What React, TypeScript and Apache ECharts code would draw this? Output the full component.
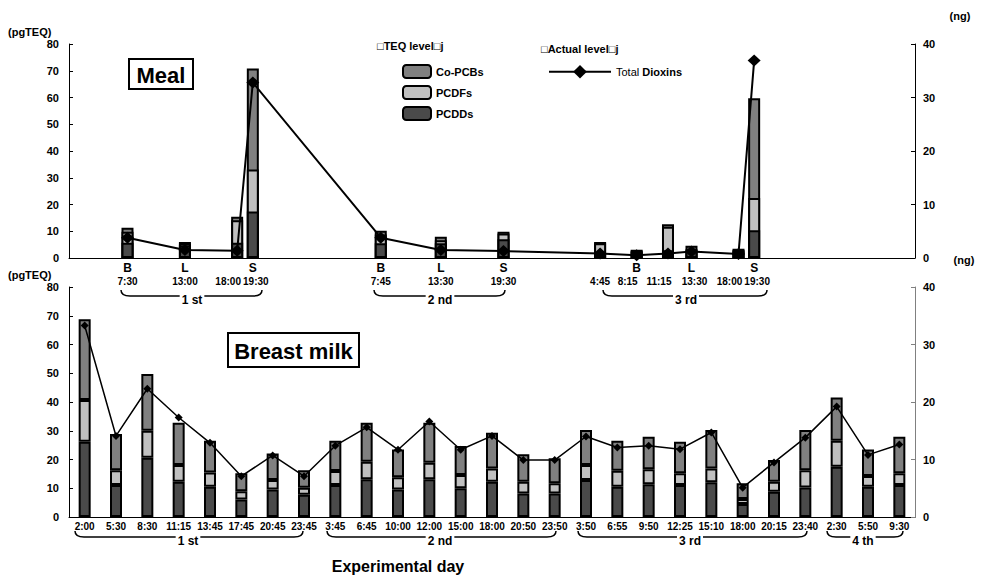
import React, { useEffect, useRef } from 'react';
import * as echarts from 'echarts';

// ---- Meal (top) : time in hours from 0:00 of day 1 ----
const mealHours = [7.5, 13, 18, 19.5, 31.75, 37.5, 43.5, 52.75, 56.25, 59.25, 61.5, 66, 67.5];
const mealLetters = ['B', 'L', '', 'S', 'B', 'L', 'S', '', 'B', '', 'L', '', 'S'];
const mealTimes = ['7:30', '13:00', '18:00', '19:30', '7:45', '13:30', '19:30', '4:45', '8:15', '11:15', '13:30', '18:00', '19:30'];
const mealPCDDs = [5.7, 4.8, 5.7, 17.4, 5.5, 5.5, 7.0, 1.7, 2.3, 2.9, 2.8, 2.5, 10.4];
const mealPCDFs = [4.1, 0.6, 8.4, 15.7, 3.3, 1.1, 2.2, 3.8, 0.4, 8.8, 0.5, 0.5, 12.0];
const mealCoPCBs = [1.5, 0.6, 1.3, 37.7, 1.4, 1.3, 0.6, 0.5, 0.4, 0.9, 1.3, 0.5, 37.3];
const mealTotalNg = [3.8, 1.5, 1.35, 32.8, 3.8, 1.5, 1.3, 0.85, 0.5, 0.85, 1.2, 0.75, 36.9];

// ---- Breast milk (bottom) ----
const milkTimes = ['2:00', '5:30', '8:30', '11:15', '13:45', '17:45', '20:45', '23:45',
  '3:45', '6:45', '10:00', '12:00', '15:00', '18:00', '20:50', '23:50',
  '3:50', '6:55', '9:50', '12:25', '15:10', '18:00', '20:15', '23:40',
  '2:30', '5:50', '9:30'];
const milkPCDDs = [26.2, 11.1, 20.6, 12.3, 10.5, 6.1, 9.6, 7.7, 11.1, 13.1, 9.6, 13.1, 10.0, 12.3, 8.2, 8.2, 12.9, 10.5, 11.4, 11.1, 12.1, 4.5, 8.8, 10.3, 17.5, 10.5, 11.1];
const milkPCDFs = [14.5, 5.2, 9.4, 5.8, 5.0, 2.9, 3.3, 2.5, 4.9, 6.1, 4.2, 5.8, 4.6, 4.6, 4.1, 3.5, 5.2, 5.6, 5.2, 4.1, 4.8, 1.8, 3.5, 6.0, 9.0, 3.8, 4.1];
const milkCoPCBs = [28.1, 12.6, 19.7, 14.7, 11.0, 6.2, 9.2, 6.1, 10.5, 13.6, 9.7, 13.9, 10.1, 12.4, 9.5, 8.7, 12.2, 10.4, 11.3, 11.0, 13.4, 5.4, 7.5, 14.0, 15.1, 9.2, 12.7];
const milkTotalNg = [33.3, 14.1, 22.3, 17.3, 12.9, 7.1, 10.7, 7.1, 12.4, 15.6, 11.7, 16.6, 11.7, 14.1, 9.9, 9.9, 14.0, 12.1, 12.4, 11.8, 14.7, 5.1, 9.5, 13.8, 19.2, 10.8, 12.6];

const dayLabels = ['1 st', '2 nd', '3 rd', '4 th'];

const FONT = '"Liberation Sans", Arial, sans-serif';
const C_CO = '#808080';
const C_DF = '#c0c0c0';
const C_DD = '#4a4a4a';

function brace(x1: number, x2: number, y: number, label: string, cx: number): any[] {
  const r = 9;
  return [
    { type: 'bezierCurve', shape: { x1: x1, y1: y - 6, cpx1: x1, cpy1: y, x2: x1 + r, y2: y }, style: { stroke: '#000', lineWidth: 1.5, fill: 'none' } },
    { type: 'line', shape: { x1: x1 + r, y1: y, x2: x2 - r, y2: y }, style: { stroke: '#000', lineWidth: 1.5 } },
    { type: 'bezierCurve', shape: { x1: x2 - r, y1: y, cpx1: x2, cpy1: y, x2: x2, y2: y - 6 }, style: { stroke: '#000', lineWidth: 1.5, fill: 'none' } },
    { type: 'text', z: 10, style: { text: label, x: cx, y: y + 4, textAlign: 'center', textVerticalAlign: 'middle', font: `bold 12px ${FONT}`, fill: '#000', backgroundColor: '#fff', padding: [0, 2] } },
  ];
}

export default function App() {
  const ref = useRef<HTMLDivElement>(null);
  useEffect(() => {
    const chart = echarts.init(ref.current!, null, { renderer: 'svg' });
    const barStyle = (c: string) => ({ color: c, borderColor: '#000', borderWidth: 2 });
    const yAxisBase = (grid: number, pos: 'left' | 'right', max: number, lineColor: string) => ({
      type: 'value', gridIndex: grid, position: pos, min: 0, max, interval: 10,
      axisLine: { show: true, lineStyle: { color: lineColor, width: 1 } },
      axisTick: { show: true, inside: true, length: 4, lineStyle: { color: lineColor } },
      splitLine: { show: false },
      axisLabel: { color: '#000', fontFamily: FONT, fontWeight: 'bold', fontSize: 11, margin: pos === 'left' ? 10 : 8 },
    });

    // cumulative tops for the meal bars (overlapping bars drawn back to front)
    const cumDD = mealPCDDs.map((v) => v);
    const cumDF = mealPCDDs.map((v, i) => v + mealPCDFs[i]);
    const cumCO = mealPCDDs.map((v, i) => v + mealPCDFs[i] + mealCoPCBs[i]);

    const closeIdx = (i: number, j: number) => j >= 0 && j < mealHours.length && Math.abs(mealHours[j] - mealHours[i]) < 3.1;
    const hasCloseNext = (i: number) => closeIdx(i, i + 1);
    const timeStyle = { fontSize: 10, fontWeight: 'bold', fontFamily: FONT, lineHeight: 13, color: '#000' };
    const mealRich = {
      l: { fontSize: 12, fontWeight: 'bold', fontFamily: FONT, lineHeight: 14, color: '#000' },
      t: timeStyle,
      tl: { ...timeStyle, padding: [0, 18, 0, 0] },
      tr: { ...timeStyle, padding: [0, 0, 0, 6] },
    };
    const mealFormatter = (v: number) => {
      const i = mealHours.indexOf(v);
      if (i < 0) return '';
      const l = mealLetters[i] || ' ';
      const st = hasCloseNext(i) ? 'tl' : (closeIdx(i, i - 1) ? 'tr' : 't');
      return `{l|${l}}\n{${st}|${mealTimes[i]}}`;
    };
    const mainLabelHours = mealHours.filter((_, i) => !hasCloseNext(i));
    const shiftedLabelHours = mealHours.filter((_, i) => hasCloseNext(i));

    const option: any = {
      animation: false,
      backgroundColor: '#fff',
      textStyle: { fontFamily: FONT },
      grid: [
        { left: 69, right: 68, top: 44, height: 214 },
        { left: 69, right: 68, top: 287, height: 230 },
      ],
      legend: [
        {
          data: ['Co-PCBs', 'PCDFs', 'PCDDs'], orient: 'vertical', left: 397, top: 59,
          itemWidth: 28, itemHeight: 13, itemGap: 6, selectedMode: false,
          textStyle: { color: '#000', fontWeight: 'bold', fontSize: 11, fontFamily: FONT, lineHeight: 13 },
        },
        {
          data: ['Total Dioxins'], left: 543, top: 60, itemWidth: 62, itemHeight: 17, selectedMode: false,
          formatter: () => '{a|Total} {b|Dioxins}',
          textStyle: {
            color: '#000', fontSize: 11, fontFamily: FONT,
            rich: { a: { fontSize: 11, fontWeight: 'normal', fontFamily: FONT }, b: { fontSize: 11, fontWeight: 'bold', fontFamily: FONT } },
          },
        },
      ],
      xAxis: [
        {
          type: 'value', gridIndex: 0, min: 1.9, max: 82.9,
          axisLine: { show: true, lineStyle: { color: '#000', width: 1 } },
          axisTick: { show: false }, splitLine: { show: false },
          axisLabel: {
            customValues: mainLabelHours, margin: 3, color: '#000', hideOverlap: false,
            showMinLabel: true, showMaxLabel: true,
            formatter: mealFormatter, rich: mealRich,
          },
        },
        {
          type: 'category', gridIndex: 1, data: milkTimes,
          axisLine: { show: true, lineStyle: { color: '#000', width: 1 } },
          axisTick: { show: false }, splitLine: { show: false },
          axisLabel: { interval: 0, color: '#000', fontFamily: FONT, fontWeight: 'bold', fontSize: 10, margin: 4 },
        },
        {
          type: 'value', gridIndex: 0, min: 1.9, max: 82.9, position: 'bottom',
          axisLine: { show: false }, axisTick: { show: false }, splitLine: { show: false },
          axisLabel: {
            customValues: shiftedLabelHours, margin: 3, color: '#000', hideOverlap: false,
            showMinLabel: true, showMaxLabel: true,
            formatter: mealFormatter, rich: mealRich,
          },
        },
      ],
      yAxis: [
        yAxisBase(0, 'left', 80, '#000'),
        yAxisBase(0, 'right', 40, '#000'),
        yAxisBase(1, 'left', 80, '#000'),
        yAxisBase(1, 'right', 40, '#808080'),
      ],
      series: [
        { name: 'Co-PCBs', type: 'bar', xAxisIndex: 0, yAxisIndex: 0, barWidth: 12, barGap: '-100%', itemStyle: barStyle(C_CO), data: mealHours.map((h, i) => [h, cumCO[i]]) },
        { name: 'PCDFs', type: 'bar', xAxisIndex: 0, yAxisIndex: 0, barWidth: 12, barGap: '-100%', itemStyle: barStyle(C_DF), data: mealHours.map((h, i) => [h, cumDF[i]]) },
        { name: 'PCDDs', type: 'bar', xAxisIndex: 0, yAxisIndex: 0, barWidth: 12, barGap: '-100%', itemStyle: barStyle(C_DD), data: mealHours.map((h, i) => [h, cumDD[i]]) },
        {
          name: 'Total Dioxins', type: 'line', xAxisIndex: 0, yAxisIndex: 1, z: 5,
          symbol: 'diamond', symbolSize: [13, 12], lineStyle: { color: '#000', width: 2 }, itemStyle: { color: '#000' },
          data: mealHours.map((h, i) => [h, mealTotalNg[i]]),
        },
        { name: 'PCDDs', type: 'bar', xAxisIndex: 1, yAxisIndex: 2, stack: 'milk', barWidth: 12, itemStyle: barStyle(C_DD), data: milkPCDDs },
        { name: 'PCDFs', type: 'bar', xAxisIndex: 1, yAxisIndex: 2, stack: 'milk', barWidth: 12, itemStyle: barStyle(C_DF), data: milkPCDFs },
        { name: 'Co-PCBs', type: 'bar', xAxisIndex: 1, yAxisIndex: 2, stack: 'milk', barWidth: 12, itemStyle: barStyle(C_CO), data: milkCoPCBs },
        {
          name: 'Total Dioxins', type: 'line', xAxisIndex: 1, yAxisIndex: 3, z: 5,
          symbol: 'diamond', symbolSize: 8, lineStyle: { color: '#000', width: 1.5 }, itemStyle: { color: '#000' },
          data: milkTotalNg,
        },
      ],
      graphic: [
        { type: 'text', style: { text: '(pgTEQ)', x: 8, y: 32, textAlign: 'left', textVerticalAlign: 'middle', font: `bold 11px ${FONT}`, fill: '#000' } },
        { type: 'text', style: { text: '(ng)', x: 960, y: 16, textAlign: 'center', textVerticalAlign: 'middle', font: `bold 11px ${FONT}`, fill: '#000' } },
        { type: 'text', style: { text: '(pgTEQ)', x: 8, y: 275, textAlign: 'left', textVerticalAlign: 'middle', font: `bold 11px ${FONT}`, fill: '#000' } },
        { type: 'text', style: { text: '(ng)', x: 964, y: 260, textAlign: 'center', textVerticalAlign: 'middle', font: `bold 11px ${FONT}`, fill: '#000' } },
        { type: 'rect', shape: { x: 129, y: 59, width: 64, height: 30 }, style: { fill: '#fff', stroke: '#000', lineWidth: 2 } },
        { type: 'text', style: { text: 'Meal', x: 161, y: 75, textAlign: 'center', textVerticalAlign: 'middle', font: `bold 22px ${FONT}`, fill: '#000' } },
        { type: 'rect', shape: { x: 228, y: 333, width: 131, height: 34 }, style: { fill: '#fff', stroke: '#000', lineWidth: 2 } },
        { type: 'text', style: { text: 'Breast milk', x: 293.5, y: 351, textAlign: 'center', textVerticalAlign: 'middle', font: `bold 22px ${FONT}`, fill: '#000' } },
        { type: 'text', style: { text: '\u25a1TEQ level\u25a1j', x: 377, y: 46, textAlign: 'left', textVerticalAlign: 'middle', font: `bold 11px ${FONT}`, fill: '#000' } },
        { type: 'text', style: { text: '\u25a1Actual level\u25a1j', x: 541, y: 49, textAlign: 'left', textVerticalAlign: 'middle', font: `bold 11px ${FONT}`, fill: '#000' } },
        ...brace(121, 262, 296, dayLabels[0], 192),
        ...brace(374, 505, 296, dayLabels[1], 440),
        ...brace(603, 767, 296, dayLabels[2], 686),
        ...brace(75, 303, 537, dayLabels[0], 188),
        ...brace(327, 556, 537, dayLabels[1], 440),
        ...brace(578, 807, 537, dayLabels[2], 690),
        ...brace(827, 903, 537, dayLabels[3], 863),
        { type: 'text', style: { text: 'Experimental day', x: 398, y: 566, textAlign: 'center', textVerticalAlign: 'middle', font: `bold 16px ${FONT}`, fill: '#000' } },
      ],
    };
    chart.setOption(option);
    return () => chart.dispose();
  }, []);
  return <div ref={ref} style={{ position: 'absolute', left: 0, top: 0, width: 983, height: 580 }} />;
}
